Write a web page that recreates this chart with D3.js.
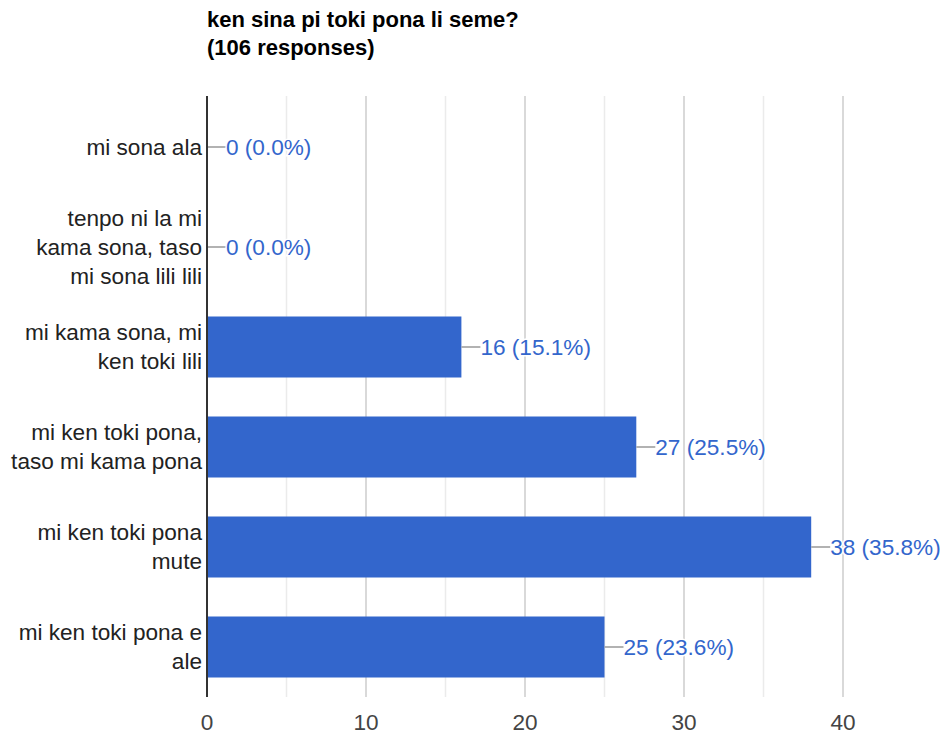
<!DOCTYPE html>
<html>
<head>
<meta charset="utf-8">
<script src="https://cdn.jsdelivr.net/npm/d3@7"></script>
<style>
  html, body { margin: 0; padding: 0; background: #fff; }
  svg { display: block; font-family: "Liberation Sans", Arial, sans-serif; }
</style>
</head>
<body>
<svg id="chart" width="942" height="736"></svg>
<script>
const titleLines = ["ken sina pi toki pona li seme?", "(106 responses)"];
const categories = [
  ["mi sona ala"],
  ["tenpo ni la mi", "kama sona, taso", "mi sona lili lili"],
  ["mi kama sona, mi", "ken toki lili"],
  ["mi ken toki pona,", "taso mi kama pona"],
  ["mi ken toki pona", "mute"],
  ["mi ken toki pona e", "ale"]
];
const counts = [0, 0, 16, 27, 38, 25];
const percentLabels = ["0.0%", "0.0%", "15.1%", "25.5%", "35.8%", "23.6%"];
const majorTicks = [0, 10, 20, 30, 40];
const minorTicks = [5, 15, 25, 35];

(function () {
const svg = d3.select("#chart");
const plotLeft = 207, plotTop = 97, plotBottom = 697;
const fs = 22.6;
const x = d3.scaleLinear().domain([0, 45]).range([plotLeft, plotLeft + 45 * 15.9]);
const y = d3.scaleBand().domain(d3.range(categories.length)).range([plotTop, plotBottom]).paddingInner(0.39).paddingOuter(0.195);

// title
svg.append("text").attr("x", 207).attr("y", 27).attr("font-size", 22).attr("font-weight", "bold").attr("fill", "#000")
  .selectAll("tspan").data(titleLines).join("tspan")
  .attr("x", 207).attr("dy", (d, i) => i === 0 ? 0 : 28).text(d => d);

// gridlines
svg.append("g").selectAll("line").data(minorTicks).join("line")
  .attr("x1", d => x(d)).attr("x2", d => x(d)).attr("y1", plotTop - 1).attr("y2", plotBottom)
  .attr("stroke", "#ebebeb").attr("stroke-width", 1.5);
svg.append("g").selectAll("line").data(majorTicks.filter(d => d > 0)).join("line")
  .attr("x1", d => x(d)).attr("x2", d => x(d)).attr("y1", plotTop - 1).attr("y2", plotBottom)
  .attr("stroke", "#cccccc").attr("stroke-width", 1.5);

// tick labels
svg.append("g").selectAll("text").data(majorTicks).join("text")
  .attr("x", d => x(d)).attr("y", 730).attr("text-anchor", "middle")
  .attr("font-size", fs).attr("fill", "#444").text(d => d);

// bars
svg.append("g").selectAll("rect").data(counts).join("rect")
  .attr("x", x(0)).attr("y", (d, i) => y(i)).attr("width", d => x(d) - x(0)).attr("height", y.bandwidth())
  .attr("fill", "#3366cc");

// leader lines
svg.append("g").selectAll("line").data(counts).join("line")
  .attr("x1", d => x(d)).attr("x2", d => x(d) + 19)
  .attr("y1", (d, i) => y(i) + y.bandwidth() / 2).attr("y2", (d, i) => y(i) + y.bandwidth() / 2)
  .attr("stroke", "#999").attr("stroke-width", 1.5);

// value labels
svg.append("g").selectAll("text").data(counts).join("text")
  .attr("x", d => x(d) + 19).attr("y", (d, i) => y(i) + y.bandwidth() / 2).attr("dy", "0.35em")
  .attr("font-size", fs).attr("fill", "#3366cc")
  .attr("stroke", "#fff").attr("stroke-width", 3).attr("paint-order", "stroke")
  .text((d, i) => `${d} (${percentLabels[i]})`);

// axis line
svg.append("line").attr("x1", x(0)).attr("x2", x(0)).attr("y1", plotTop - 1).attr("y2", plotBottom)
  .attr("stroke", "#333").attr("stroke-width", 2);

// category labels
const lh = 29;
svg.append("g").selectAll("text").data(categories).join("text")
  .attr("text-anchor", "end").attr("font-size", fs).attr("fill", "#222")
  .each(function(lines, i) {
    const cy = y(i) + y.bandwidth() / 2;
    const t = d3.select(this);
    lines.forEach((ln, j) => {
      t.append("tspan").attr("x", 202)
        .attr("y", cy + (j - (lines.length - 1) / 2) * lh).attr("dy", "0.35em").text(ln);
    });
  });
})();
</script>
</body>
</html>
